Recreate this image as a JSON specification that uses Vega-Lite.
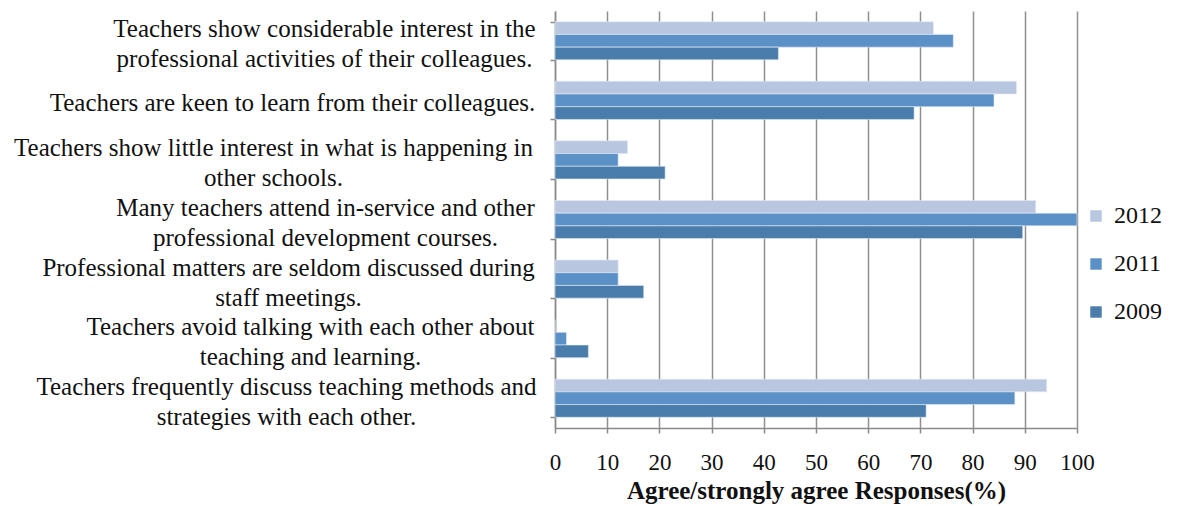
{
  "$schema": "https://vega.github.io/schema/vega-lite/v6.json",
  "autosize": {"type": "none"},
  "padding": {"left": 555, "top": 11, "right": 106, "bottom": 78},
  "width": 522,
  "height": 417,
  "background": "white",
  "config": {
    "font": "Liberation Serif, Times New Roman, serif",
    "view": {"stroke": null}
  },
  "data": {
    "values": [
      {"statement": "Teachers show considerable interest in the\nprofessional activities of their colleagues.", "year": "2012", "value": 72.5},
      {"statement": "Teachers show considerable interest in the\nprofessional activities of their colleagues.", "year": "2011", "value": 76.3},
      {"statement": "Teachers show considerable interest in the\nprofessional activities of their colleagues.", "year": "2009", "value": 42.8},
      {"statement": "Teachers are keen to learn from their colleagues.", "year": "2012", "value": 88.4},
      {"statement": "Teachers are keen to learn from their colleagues.", "year": "2011", "value": 84.1},
      {"statement": "Teachers are keen to learn from their colleagues.", "year": "2009", "value": 68.8},
      {"statement": "Teachers show little interest in what is happening in\nother schools.", "year": "2012", "value": 13.9},
      {"statement": "Teachers show little interest in what is happening in\nother schools.", "year": "2011", "value": 12.1},
      {"statement": "Teachers show little interest in what is happening in\nother schools.", "year": "2009", "value": 21.1},
      {"statement": "Many teachers attend in-service and other\nprofessional development courses.", "year": "2012", "value": 92.1},
      {"statement": "Many teachers attend in-service and other\nprofessional development courses.", "year": "2011", "value": 100},
      {"statement": "Many teachers attend in-service and other\nprofessional development courses.", "year": "2009", "value": 89.6},
      {"statement": "Professional matters are seldom discussed during\nstaff meetings.", "year": "2012", "value": 12.1},
      {"statement": "Professional matters are seldom discussed during\nstaff meetings.", "year": "2011", "value": 12.1},
      {"statement": "Professional matters are seldom discussed during\nstaff meetings.", "year": "2009", "value": 17.0},
      {"statement": "Teachers avoid talking with each other about\nteaching and learning.", "year": "2012", "value": 0},
      {"statement": "Teachers avoid talking with each other about\nteaching and learning.", "year": "2011", "value": 2.2},
      {"statement": "Teachers avoid talking with each other about\nteaching and learning.", "year": "2009", "value": 6.4},
      {"statement": "Teachers frequently discuss teaching methods and\nstrategies with each other.", "year": "2012", "value": 94.2},
      {"statement": "Teachers frequently discuss teaching methods and\nstrategies with each other.", "year": "2011", "value": 88.1},
      {"statement": "Teachers frequently discuss teaching methods and\nstrategies with each other.", "year": "2009", "value": 71.1}
    ]
  },
  "mark": {"type": "bar", "stroke": "#e4ebf5", "strokeWidth": 0.6},
  "encoding": {
    "y": {
      "field": "statement",
      "type": "nominal",
      "sort": null,
      "scale": {"paddingInner": 0.36, "paddingOuter": 0.18},
      "axis": {
        "title": null,
        "labelExpr": "datum.value ? split(datum.value, '\\n') : ''",
        "labelFont": "Liberation Serif, Times New Roman, serif",
        "labelFontSize": 25,
        "labelColor": "#111111",
        "labelLineHeight": 30,
        "labelAlign": "center",
        "labelLimit": 800,
        "labelPadding": {
          "condition": [
            {"test": "datum.value && indexof(datum.value, 'considerable') >= 0", "value": 226},
            {"test": "datum.value && indexof(datum.value, 'keen') >= 0", "value": 258},
            {"test": "datum.value && indexof(datum.value, 'little') >= 0", "value": 277},
            {"test": "datum.value && indexof(datum.value, 'in-service') >= 0", "value": 225},
            {"test": "datum.value && indexof(datum.value, 'seldom') >= 0", "value": 262},
            {"test": "datum.value && indexof(datum.value, 'avoid') >= 0", "value": 240},
            {"test": "datum.value && indexof(datum.value, 'frequently') >= 0", "value": 264}
          ],
          "value": 250
        },
        "labelOffset": {"condition": {"test": "datum.value && indexof(datum.value, '\\n') >= 0", "value": -12}, "value": 2},
        "tickBand": "extent",
        "tickSize": 5,
        "tickColor": "#8a8a8a",
        "tickWidth": 1.5,
        "domainColor": "#8a8a8a",
        "domainWidth": 1.5,
        "grid": false
      }
    },
    "yOffset": {"field": "year", "sort": ["2012", "2011", "2009"]},
    "x": {
      "field": "value",
      "type": "quantitative",
      "scale": {"domain": [0, 100], "nice": false},
      "axis": {
        "title": "Agree/strongly agree Responses(%)",
        "titleFont": "Liberation Serif, Times New Roman, serif",
        "titleFontSize": 25,
        "titleFontWeight": "bold",
        "titleColor": "#111111",
        "titlePadding": 4,
        "values": [0, 10, 20, 30, 40, 50, 60, 70, 80, 90, 100],
        "labelFont": "Liberation Serif, Times New Roman, serif",
        "labelFontSize": 23,
        "labelColor": "#111111",
        "labelPadding": 18,
        "labelFlush": false,
        "tickSize": 5,
        "tickColor": "#8a8a8a",
        "tickWidth": 1.5,
        "domainColor": "#8a8a8a",
        "domainWidth": 1.5,
        "grid": true,
        "gridColor": "#8f8f8f",
        "gridWidth": 1.5
      }
    },
    "color": {
      "field": "year",
      "type": "nominal",
      "scale": {"domain": ["2012", "2011", "2009"], "range": ["#b8c6e0", "#5b91c6", "#4a7dac"]},
      "legend": {
        "title": null,
        "orient": "none",
        "legendX": 529,
        "legendY": 193,
        "symbolType": "square",
        "symbolSize": 130,
        "symbolStrokeWidth": 0,
        "labelFont": "Liberation Serif, Times New Roman, serif",
        "labelFontSize": 24,
        "labelColor": "#111111",
        "labelOffset": 6,
        "rowPadding": 24
      }
    }
  }
}
